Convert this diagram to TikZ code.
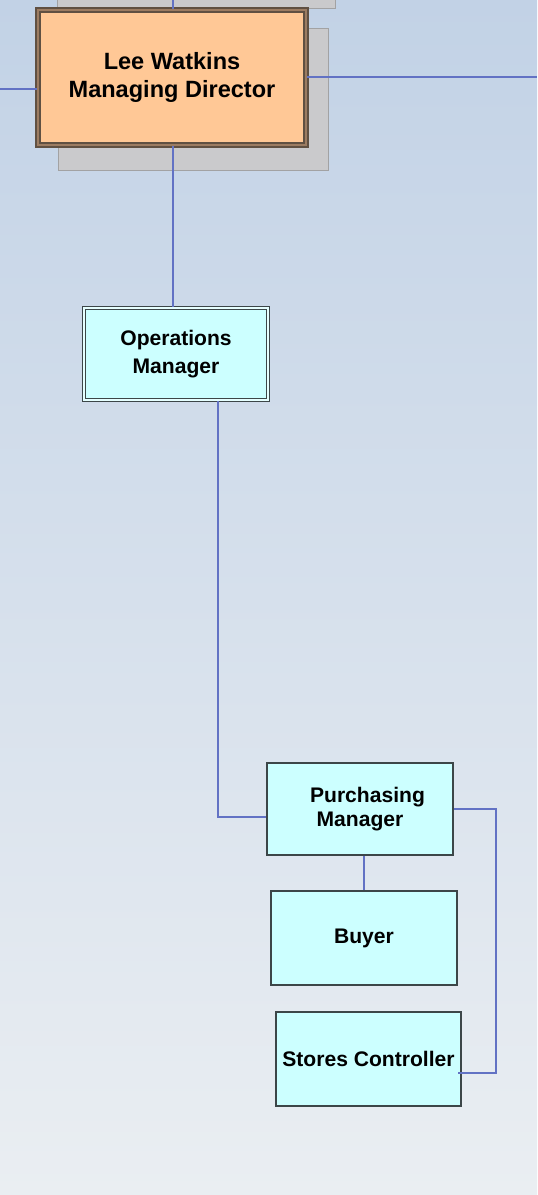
\documentclass[tikz,border=0pt]{standalone}
\usepackage{fontspec}
\setmainfont{Liberation Sans}
\definecolor{bgtop}{RGB}{194,210,230}
\definecolor{bgbottom}{RGB}{234,238,242}
\definecolor{linkblue}{RGB}{98,114,196}
\definecolor{mdfill}{RGB}{255,200,150}
\definecolor{mdline}{RGB}{96,80,66}
\definecolor{mdgap}{RGB}{156,124,98}
\definecolor{boxfill}{RGB}{204,255,255}
\definecolor{boxline}{RGB}{60,70,72}
\definecolor{ghost}{RGB}{202,202,204}
\tikzset{
  link/.style={draw=linkblue, line width=0.9pt},
  postbox/.style={draw=boxline, fill=boxfill, line width=0.9pt, align=center,
    font=\fontsize{12}{13.5}\selectfont\bfseries, inner sep=0pt},
  headbox/.style={postbox, draw=boxline, line width=0.8pt, double=boxfill!50!white, double distance=0.9pt,
    font=\fontsize{12}{16}\selectfont\bfseries},
}
\begin{document}
\begin{tikzpicture}[x=0.02cm, y=-0.02cm]
        % Background
        \shade[top color=bgtop, bottom color=bgbottom] (0,0) rectangle (537,1195);
        \useasboundingbox (0,0) rectangle (537,1195);

        % Boxes behind the director
        \draw[fill=ghost, draw=ghost!80!black] (57,-6) rectangle (335,8);
        \draw[fill=ghost, draw=ghost!80!black] (58,28) rectangle (328,170);
        \coordinate (topend) at (173,0);
        \coordinate (leftend) at (0,89);
        \coordinate (rightend) at (537,77);

        % The Managing Director
        \node[draw=mdline, fill=mdfill, line width=1.1pt, double=mdgap, double distance=1.2pt,
          minimum width=5.36cm, minimum height=2.7cm, align=center,
          font=\fontsize{13.4}{15.5}\selectfont\bfseries] (md) at (172,77.5)
          {Lee Watkins\\Managing Director};

        % The posts below
        \node[headbox, minimum width=3.68cm, minimum height=1.84cm] (ops) at (176,354) {Operations\\Manager};
        \node[postbox, minimum width=3.72cm, minimum height=1.84cm] (pm) at (360,809) {\hspace{0.3cm}Purchasing\\Manager};
        \node[postbox, minimum width=3.72cm, minimum height=1.88cm] (buyer) at (364,938) {Buyer};
        \node[postbox, minimum width=3.7cm, minimum height=1.88cm] (stores) at (368.5,1059) {Stores Controller};
        \coordinate (opsdrop) at (218,401);
        \coordinate (rail) at (496,809);

        % Connectors
        \draw[link] (md.north -| topend) -- (topend);
        \draw[link] (leftend) -- (leftend -| md.west);
        \draw[link, line width=1.3pt] (md.east |- rightend) -- (rightend);
        \draw[link] (md.south -| topend) -- (ops.north -| topend);
        \draw[link] (opsdrop) |- ([yshift=-0.16cm]pm.west);
        \draw[link] (pm.south -| buyer.north) -- (buyer.north);
        \draw[link] (pm.east) -- (rail) |- ([yshift=-0.28cm,xshift=-0.08cm]stores.east);
    \end{tikzpicture}
\end{document}
